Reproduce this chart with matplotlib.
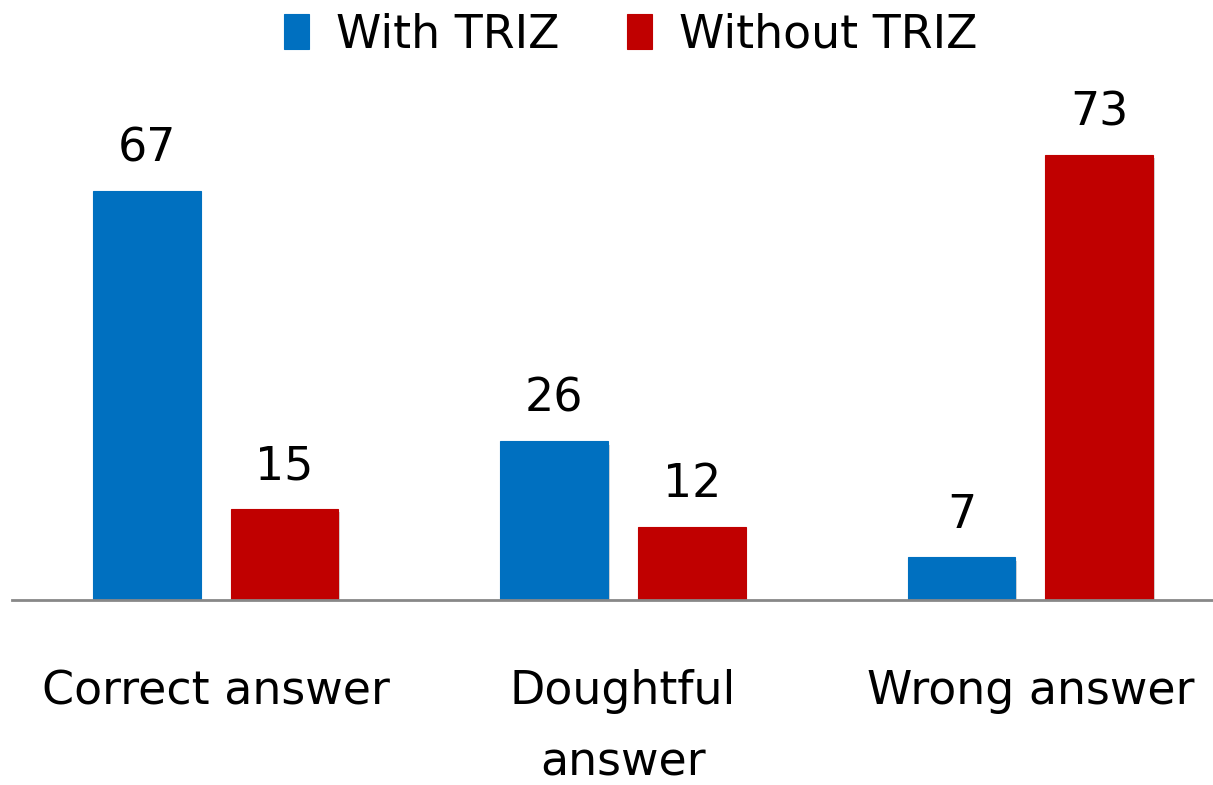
import numpy as np
import matplotlib.pyplot as plt
from matplotlib.patches import Rectangle

categories = ['Correct answer', 'Doughtful\nanswer', 'Wrong answer']
with_triz = [67, 26, 7]
without_triz = [15, 12, 73]

blue = '#0070C0'
red = '#C00000'

plt.rcParams['font.family'] = ['DejaVu Sans']

fig = plt.figure(figsize=(12.13, 7.85), dpi=100)
# axes spans past the right edge, like the cropped original
ax = fig.add_axes([12 / 1213, 1 - 600 / 785, 1222 / 1213, 500 / 785])

x = np.arange(len(categories))
w = 0.265
off = 0.169

for xs, vals, col, lab in [(x - off, with_triz, blue, 'With TRIZ'),
                           (x + off, without_triz, red, 'Without TRIZ')]:
    # soft shadow behind bars
    for xi, v in zip(xs, vals):
        ax.add_patch(Rectangle((xi - w / 2 + 0.004, -0.6), w, v, color='#bbbbbb',
                               alpha=0.6, zorder=1, lw=0))
    bars = ax.bar(xs, vals, w, color=col, label=lab, zorder=2,
                  edgecolor=col, linewidth=0.8)
    for b, v in zip(bars, vals):
        ax.annotate(str(v), (b.get_x() + b.get_width() / 2, v),
                    xytext=(0, 14), textcoords='offset points',
                    ha='center', va='bottom', fontsize=33)

ax.set_xlim(-0.5, 2.5)
ax.set_ylim(0, 500 / 6.1)
ax.set_xticks(x)
ax.set_xticklabels(categories, fontsize=33, linespacing=1.74)
ax.tick_params(axis='x', length=0, pad=50)
ax.set_yticks([])
for s in ['top', 'right', 'left']:
    ax.spines[s].set_visible(False)
ax.spines['bottom'].set_color('#888888')
ax.spines['bottom'].set_linewidth(2)
ax.spines['bottom'].set_zorder(3)

fig.legend(loc='center', bbox_to_anchor=(0.52, 1 - 35 / 785), ncol=2, frameon=False,
           fontsize=33, handlelength=0.55, handleheight=0.79, handletextpad=0.59,
           columnspacing=1.46, borderpad=0)

fig.savefig('out.png', dpi=100)
